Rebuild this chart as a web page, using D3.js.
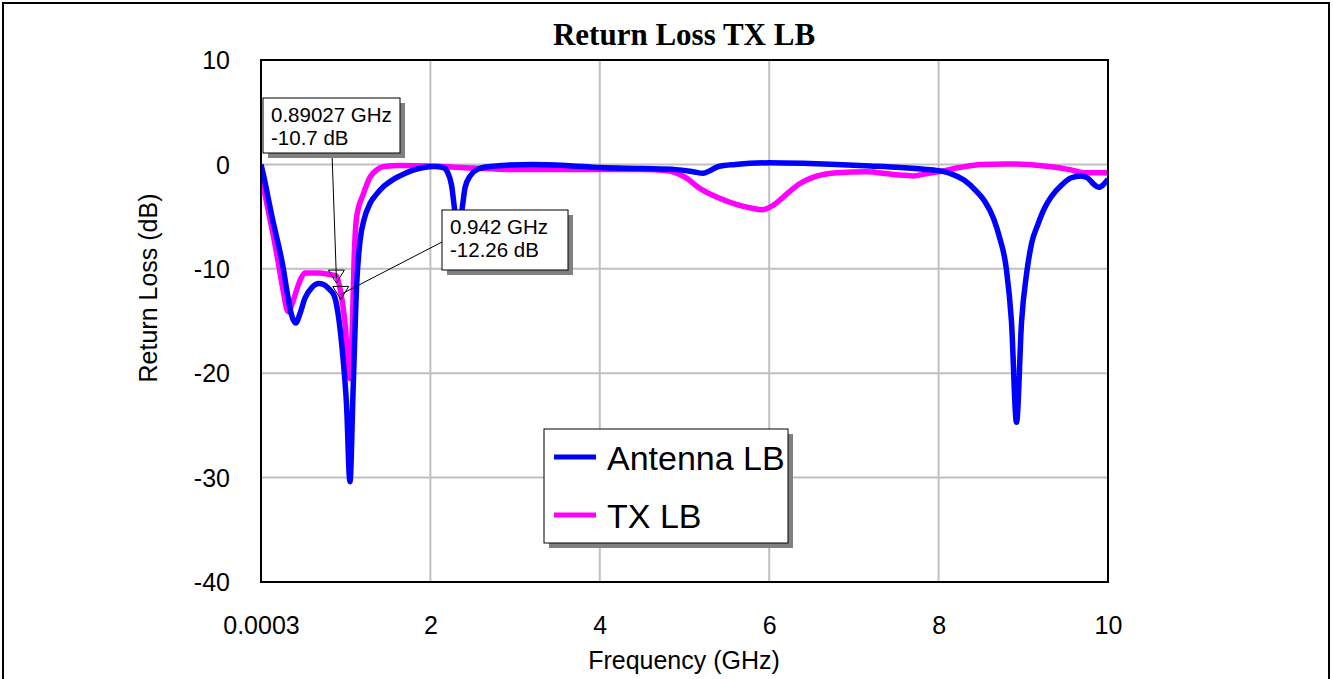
<!DOCTYPE html>
<html><head><meta charset="utf-8">
<script src="https://cdn.jsdelivr.net/npm/d3@7"></script>
<style>html,body{margin:0;padding:0;background:#fff;}svg{display:block;}</style>
</head><body>
<svg id="c" width="1333" height="679"></svg>
<script>
// ---- data ----
const antFreq = [0.0003,0.04,0.08,0.13,0.18,0.22,0.26,0.31,0.36,0.41,0.46,0.52,0.6,0.68,0.74,0.8,0.87,0.91,0.97,1.01,1.05,1.09,1.13,1.17,1.22,1.29,1.37,1.45,1.55,1.64,1.78,1.92,2.05,2.15,2.2,2.25,2.29,2.33,2.37,2.41,2.47,2.55,2.7,2.85,3.2,3.6,4.0,4.5,4.9,5.1,5.22,5.3,5.4,5.6,6.0,6.4,6.8,7.2,7.55,7.8,8.0,8.15,8.3,8.45,8.55,8.65,8.72,8.8,8.86,8.92,8.98,9.04,9.1,9.17,9.25,9.33,9.45,9.56,9.68,9.76,9.83,9.89,9.95,10];
const antDb   = [0,-1.4,-3.0,-5,-6.8,-8.2,-9.8,-12.3,-14.4,-15.2,-14.3,-12.8,-11.8,-11.4,-11.5,-11.9,-12.7,-14.3,-18.7,-23,-30.4,-21,-11.5,-7.3,-5.2,-3.7,-2.8,-2.1,-1.5,-1.1,-0.6,-0.3,-0.2,-0.3,-0.7,-2,-4.5,-6,-4.5,-2.2,-1.1,-0.5,-0.2,-0.1,0,-0.1,-0.3,-0.4,-0.5,-0.7,-0.85,-0.6,-0.2,0,0.15,0.1,0,-0.15,-0.3,-0.45,-0.6,-0.9,-1.5,-2.6,-3.6,-5.2,-7,-10,-15,-24.7,-15,-10.4,-7.5,-5.8,-4.2,-3.1,-2,-1.3,-1.1,-1.3,-1.9,-2.2,-1.9,-1.4];
const txFreq  = [0.0003,0.05,0.1,0.15,0.2,0.26,0.32,0.37,0.43,0.48,0.52,0.6,0.7,0.78,0.85,0.89027,0.942,0.99,1.05,1.08,1.1,1.13,1.21,1.29,1.37,1.45,1.64,2.0,2.5,3.0,3.5,4.0,4.5,4.8,5.0,5.2,5.4,5.6,5.8,5.92,6.05,6.17,6.35,6.57,6.8,7.16,7.4,7.6,7.7,7.85,8.0,8.25,8.5,8.8,9.05,9.3,9.55,9.72,10];
const txDb    = [-1.3,-3,-5,-7,-9.2,-12,-14.1,-13.3,-11.8,-10.8,-10.4,-10.4,-10.4,-10.5,-10.6,-10.7,-12.26,-15,-20.5,-15,-9,-5,-2.8,-1.2,-0.5,-0.2,-0.1,-0.15,-0.35,-0.5,-0.5,-0.5,-0.5,-0.6,-1.2,-2.4,-3.2,-3.8,-4.2,-4.35,-3.9,-3.1,-1.9,-1.1,-0.8,-0.7,-0.9,-1.05,-1.1,-0.9,-0.7,-0.3,0,0.05,0,-0.2,-0.5,-0.8,-0.8];
const seriesNames = ["Antenna LB","TX LB"];
const xTickVals = [0.0003,2,4,6,8,10];
const xTickLabels = ["0.0003","2","4","6","8","10"];
const yTickVals = [10,0,-10,-20,-30,-40];
const yTickLabels = ["10","0","-10","-20","-30","-40"];
const markerFreq = [0.89027,0.942];
const markerDb = [-10.7,-12.26];
const markerText = [["0.89027 GHz","-10.7 dB"],["0.942 GHz","-12.26 dB"]];

// ---- layout ----
const svg = d3.select("#c");
const L=261, R=1108, T=60, B=582;
const x = d3.scaleLinear().domain([0.0003,10]).range([L,R]);
const y = d3.scaleLinear().domain([-40,10]).range([B,T]);

// outer frame
svg.append("rect").attr("x",3).attr("y",3).attr("width",1326).attr("height",690)
  .attr("fill","none").attr("stroke","#000").attr("stroke-width",2);

// title
svg.append("text").attr("x",684).attr("y",45).attr("text-anchor","middle")
  .attr("font-family","'Liberation Serif','Times New Roman',serif").attr("font-weight","bold")
  .attr("font-size",31).text("Return Loss TX LB");

// grid
const g = svg.append("g");
g.selectAll(".gx").data(xTickVals.slice(1,-1)).enter().append("line")
  .attr("x1",d=>x(d)).attr("x2",d=>x(d)).attr("y1",T).attr("y2",B)
  .attr("stroke","#c0c0c0").attr("stroke-width",2);
g.selectAll(".gy").data(yTickVals.slice(1,-1)).enter().append("line")
  .attr("y1",d=>y(d)).attr("y2",d=>y(d)).attr("x1",L).attr("x2",R)
  .attr("stroke","#c0c0c0").attr("stroke-width",2);

// axes (labels via d3 axes, no tick lines)
const font = "'Liberation Sans',Arial,sans-serif";
const xAxis = d3.axisBottom(x).tickValues(xTickVals).tickFormat((d,i)=>xTickLabels[i]).tickSize(0).tickPadding(0);
const xa = svg.append("g").attr("transform",`translate(0,${B+52})`).call(xAxis);
xa.select(".domain").remove();
xa.selectAll("text").attr("font-family",font).attr("font-size",25).attr("fill","#000").attr("dy",0);
const yAxis = d3.axisLeft(y).tickValues(yTickVals).tickFormat((d,i)=>yTickLabels[i]).tickSize(0).tickPadding(0);
const ya = svg.append("g").attr("transform",`translate(${L-31},0)`).call(yAxis);
ya.select(".domain").remove();
ya.selectAll("text").attr("font-family",font).attr("font-size",25).attr("fill","#000").attr("dy","0.35em");

// axis titles
svg.append("text").attr("x",684).attr("y",669).attr("text-anchor","middle")
  .attr("font-family",font).attr("font-size",25).text("Frequency (GHz)");
svg.append("text").attr("transform","translate(157,288) rotate(-90)").attr("text-anchor","middle")
  .attr("font-family",font).attr("font-size",25).text("Return Loss (dB)");

// curves
svg.append("clipPath").attr("id","pc").append("rect")
  .attr("x",L).attr("y",T).attr("width",R-L).attr("height",B-T);
const line = d3.line().x(d=>x(d[0])).y(d=>y(d[1])).curve(d3.curveMonotoneX);
const txData = txFreq.map((f,i)=>[f,txDb[i]]);
const antData = antFreq.map((f,i)=>[f,antDb[i]]);
const cg = svg.append("g").attr("clip-path","url(#pc)");
cg.append("path").datum(txData).attr("d",line).attr("fill","none").attr("stroke","#ff00ff").attr("stroke-width",5.5).attr("stroke-linejoin","round");
cg.append("path").datum(antData).attr("d",line).attr("fill","none").attr("stroke","#0000ff").attr("stroke-width",5.5).attr("stroke-linejoin","round");

// plot frame
svg.append("rect").attr("x",L).attr("y",T).attr("width",R-L).attr("height",B-T)
  .attr("fill","none").attr("stroke","#000").attr("stroke-width",2);

// markers
const boxes = [{x:263,y:98,w:137,h:55,ax:332,ay:153},{x:442,y:210,w:126,h:60,ax:442,ay:242}];
markerFreq.forEach((f,i)=>{
  const px=x(f), py=y(markerDb[i]);
  const b=boxes[i];
  svg.append("polygon").attr("points",`${px-8},${py-6} ${px+8},${py-6} ${px},${py+7}`)
    .attr("fill","none").attr("stroke","#000").attr("stroke-width",1);
  svg.append("line").attr("x1",b.ax).attr("y1",b.ay).attr("x2",px).attr("y2",py+2)
    .attr("stroke","#000").attr("stroke-width",1);
  svg.append("rect").attr("x",b.x+5).attr("y",b.y+5).attr("width",b.w).attr("height",b.h).attr("fill","#808080");
  svg.append("rect").attr("x",b.x).attr("y",b.y).attr("width",b.w).attr("height",b.h)
    .attr("fill","#fff").attr("stroke","#000").attr("stroke-width",1);
  markerText[i].forEach((t,j)=>{
    svg.append("text").attr("x",b.x+8).attr("y",b.y+24+j*23).attr("font-family",font)
      .attr("font-size",20.5).text(t);
  });
});

// legend
const lg = {x:544,y:429,w:244,h:114};
svg.append("rect").attr("x",lg.x+5).attr("y",lg.y+5).attr("width",lg.w).attr("height",lg.h).attr("fill","#808080");
svg.append("rect").attr("x",lg.x).attr("y",lg.y).attr("width",lg.w).attr("height",lg.h)
  .attr("fill","#fff").attr("stroke","#000").attr("stroke-width",1);
const colors = ["#0000ff","#ff00ff"];
seriesNames.forEach((n,i)=>{
  const yy = lg.y+28+i*58;
  svg.append("line").attr("x1",lg.x+10).attr("x2",lg.x+52).attr("y1",yy).attr("y2",yy)
    .attr("stroke",colors[i]).attr("stroke-width",5);
  svg.append("text").attr("x",lg.x+63).attr("y",yy+13).attr("font-family",font)
    .attr("font-size",34).text(n);
});
</script>
</body></html>
